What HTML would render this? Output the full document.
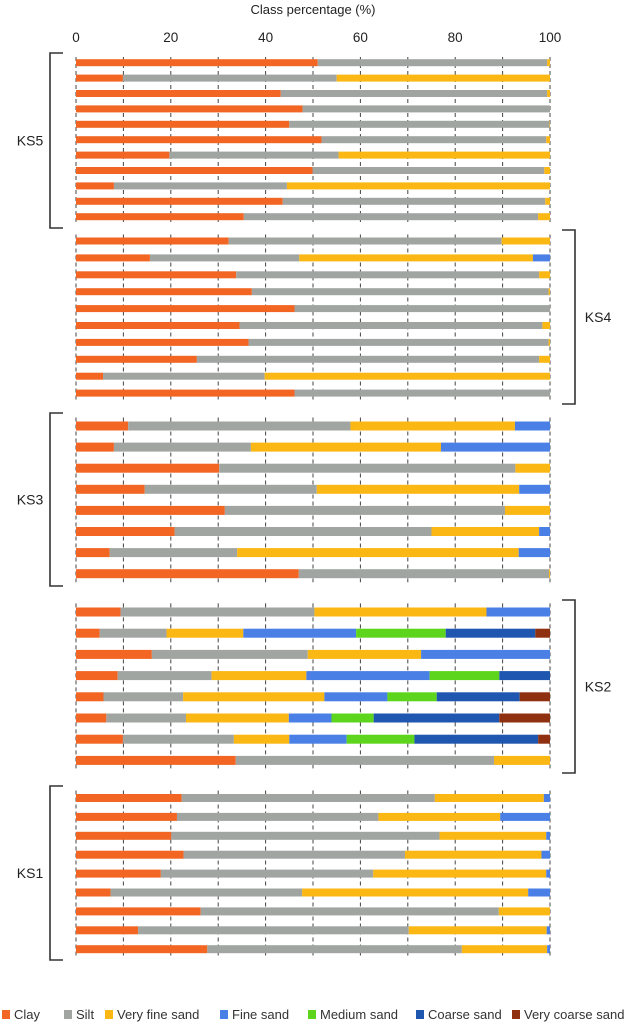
<!DOCTYPE html>
<html><head><meta charset="utf-8"><style>
body{margin:0;background:#fff;}
svg{display:block;font-family:"Liberation Sans",sans-serif;}
</style></head><body>
<svg id="chart" width="627" height="1024" viewBox="0 0 627 1024" xmlns="http://www.w3.org/2000/svg">
<text x="313" y="14" text-anchor="middle" font-size="13" fill="#222">Class percentage (%)</text>
<g id="grid"></g><g id="bars"></g><g id="axis"></g><g id="brackets"></g><g id="legend"></g>
</svg>
<script>
const ticks=[0,20,40,60,80,100];
const groupNames=["KS5","KS4","KS3","KS2","KS1"];
const groupCounts=[11,10,8,8,9];
const classNames=["Clay","Silt","Very fine sand","Fine sand","Medium sand","Coarse sand","Very coarse sand"];
const clay=[51,9.9,43.2,47.8,45,51.8,19.7,49.9,8,43.6,35.4, 32.2,15.6,33.8,37.1,46.1,34.5,36.4,25.5,5.7,46.1, 11,8,30.2,14.5,31.4,20.8,7.1,47, 9.4,5,16,8.8,5.8,6.4,9.9,33.7, 22.3,21.3,20.1,22.7,17.9,7.3,26.3,13.1,27.7];
const silt=[48.4,45.1,56.2,52.2,54.9,47.4,35.7,48.9,36.5,55.4,62.1, 57.6,31.5,63.9,62.6,53.9,63.9,63.3,72.2,34.1,53.9, 46.9,28.9,62.5,36.3,59.1,54.2,26.9,52.8, 40.9,14.1,32.9,19.8,16.8,16.8,23.4,54.5, 53.4,42.5,56.6,46.7,44.8,40.4,62.9,57.1,53.7];
const veryFine=[0.6,45,0.6,0,0.1,0.8,44.6,1.2,55.5,1,2.5, 10.2,49.3,2.3,0.3,0,1.6,0.3,2.3,60.2,0, 34.7,40.1,7.3,42.7,9.5,22.7,59.4,0.2, 36.3,16.2,23.9,20,29.8,21.7,11.7,11.8, 23,25.7,22.5,28.8,36.5,47.7,10.8,29.1,18];
const fine=[0,0,0,0,0,0,0,0,0,0,0, 0,3.6,0,0,0,0,0,0,0,0, 7.4,23,0,6.5,0,2.3,6.6,0, 13.4,23.8,27.2,26,13.3,9,12.1,0, 1.3,10.5,0.8,1.8,0.8,4.6,0,0.7,0.6];
const medium=[0,0,0,0,0,0,0,0,0,0,0, 0,0,0,0,0,0,0,0,0,0, 0,0,0,0,0,0,0,0, 0,18.9,0,14.7,10.4,8.9,14.3,0, 0,0,0,0,0,0,0,0,0];
const coarse=[0,0,0,0,0,0,0,0,0,0,0, 0,0,0,0,0,0,0,0,0,0, 0,0,0,0,0,0,0,0, 0,18.9,0,10.7,17.5,26.5,26.1,0, 0,0,0,0,0,0,0,0,0];
const veryCoarse=[0,0,0,0,0,0,0,0,0,0,0, 0,0,0,0,0,0,0,0,0,0, 0,0,0,0,0,0,0,0, 0,3.1,0,0,6.4,10.7,2.5,0, 0,0,0,0,0,0,0,0,0];

const series=[clay,silt,veryFine,fine,medium,coarse,veryCoarse];
const colors=["#f26522","#a0a5a2","#fbb713","#4a7fe6","#5dd51c","#1f56b0","#8f3010"];
const layout=[{y0:62.7,step:15.4,h:7,side:"L",b0:53,b1:228},{y0:241,step:16.9,h:7,side:"R",b0:230,b1:404},{y0:426,step:21.1,h:9,side:"L",b0:413,b1:586},{y0:612,step:21.2,h:9,side:"R",b0:600,b1:773},{y0:798,step:18.9,h:8,side:"L",b0:786,b1:960}];
const X0=76,X1=550;
const x=v=>X0+(X1-X0)*v/100;
const NS="http://www.w3.org/2000/svg";
function mk(tag,attrs,parent){const e=document.createElementNS(NS,tag);for(const k in attrs)e.setAttribute(k,attrs[k]);parent.appendChild(e);return e;}
const grid=document.getElementById('grid'),bars=document.getElementById('bars'),axis=document.getElementById('axis'),br=document.getElementById('brackets'),lg=document.getElementById('legend');
ticks.forEach(t=>{const e=mk('text',{x:x(t),y:42,'text-anchor':'middle','font-size':13.5,fill:'#222'},axis);e.textContent=t;

});
let row=0;
groupNames.forEach((g,gi)=>{
 const L=layout[gi],n=groupCounts[gi];
 const top=L.y0-L.step/2+2,bot=L.y0+(n-1)*L.step+L.step/2-2;
 for(let t=0;t<=100;t+=10){const l=mk('line',{x1:x(t),x2:x(t),y1:top,y2:bot,stroke:'#444','stroke-width':1,'stroke-dasharray':'4,3'},grid);
 
 }
 for(let i=0;i<n;i++,row++){
  const yc=L.y0+i*L.step;let cum=0;
  series.forEach((s,si)=>{const v=s[row];if(v<=0)return;
   const r=mk('rect',{x:x(cum),y:yc-L.h/2,width:x(cum+v)-x(cum),height:L.h,fill:colors[si]},bars);
   
   
   cum+=v;});
 }
 const bx=L.side==="L"?50:575,tick=L.side==="L"?13:-13;
 const p=mk('path',{d:`M${bx+tick},${L.b0} H${bx} V${L.b1} H${bx+tick}`,fill:'none',stroke:'#333','stroke-width':1.6},br);
 
 
 const lt=mk('text',{x:L.side==="L"?30:598,y:(L.b0+L.b1)/2+5,'text-anchor':'middle','font-size':14,fill:'#222'},br);
 lt.textContent=g;
 
 
});
const lx=[2,64,105,220,308,416,512];
classNames.forEach((c,i)=>{
 const r=mk('rect',{x:lx[i],y:1010,width:8,height:9,fill:colors[i]},lg);
 
 
 const t=mk('text',{x:lx[i]+12,y:1019,'font-size':13,fill:'#333'},lg);
 t.textContent=c;
 
 
});
</script>
</body></html>
